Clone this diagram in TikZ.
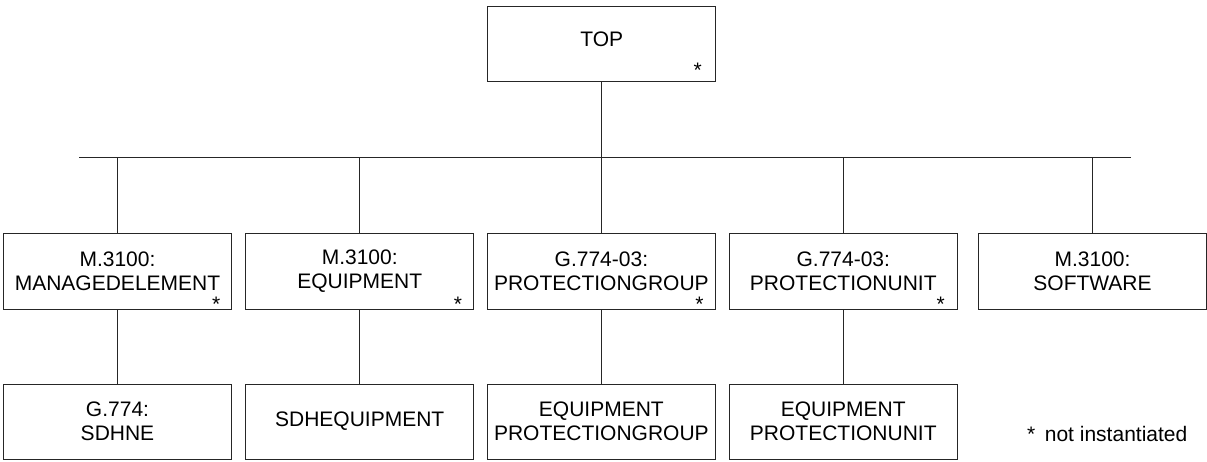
\documentclass[tikz,border=0pt]{standalone}
\usepackage{fontspec}
\setmainfont{Liberation Sans}
\begin{document}
\begin{tikzpicture}[x=1pt,y=-1pt,
  txt/.style={font=\fontsize{21}{24}\selectfont},
  box/.style={txt, draw=black!85, line width=1pt, minimum width=227.5pt, minimum height=76pt, inner sep=0pt, outer sep=0pt, align=center},
  lowbox/.style={box, minimum height=75pt},
  conn/.style={draw=black!85, line width=1pt},
  star/.style={txt, anchor=base, inner sep=0pt}]
\useasboundingbox (0,0) rectangle (1207,461);

% top
\node[box, minimum width=228pt, minimum height=75pt, text height=15pt, text depth=10pt] (top) at (601.7,44.2) {TOP};
\node[star] (s0) at ([xshift=-18pt,yshift=4pt]top.south east) {*};

% middle row
\node[box] (m1) at (117.5,271.3) {M.3100:\\MANAGEDELEMENT};
\node[box] (m2) at (359.7,271.3) {M.3100:\\EQUIPMENT};
\node[box] (m3) at (601.4,271.3) {G.774-03:\\PROTECTIONGROUP};
\node[box] (m4) at (843.3,271.3) {G.774-03:\\PROTECTIONUNIT};
\node[box] (m5) at (1092.5,271.3) {M.3100:\\SOFTWARE};
\node[star] (s1) at ([xshift=-15pt,yshift=-2pt]m1.south east) {*};
\node[star] (s2) at ([xshift=-15.6pt,yshift=-2pt]m2.south east) {*};
\node[star] (s3) at ([xshift=-15.7pt,yshift=-2pt]m3.south east) {*};
\node[star] (s4) at ([xshift=-16.3pt,yshift=-2pt]m4.south east) {*};

% bottom row
\node[lowbox] (b1) at (117.5,421.5) {G.774:\\SDHNE};
\node[lowbox] (b2) at (359.7,421.5) {SDHEQUIPMENT};
\node[lowbox] (b3) at (601.4,421.5) {EQUIPMENT\\PROTECTIONGROUP};
\node[lowbox] (b4) at (843.3,421.5) {EQUIPMENT\\PROTECTIONUNIT};

% note
\node[txt, anchor=base west, inner sep=0pt] (note) at (1027,441) {*\hspace{9.5pt}not instantiated};

% connectors
\coordinate (busL) at (79,157.3);
\coordinate (busR) at (1130.7,157.3);
\draw[conn] (busL) -- (busR);
\draw[conn] (top.south) -- (top.south |- busL);
\foreach \n in {m1,m2,m3,m4,m5} \draw[conn] (\n.north) -- (\n.north |- busL);
\draw[conn] (m1.south) -- (b1.north);
\draw[conn] (m2.south) -- (b2.north);
\draw[conn] (m3.south) -- (b3.north);
\draw[conn] (m4.south) -- (b4.north);
\end{tikzpicture}
\end{document}
